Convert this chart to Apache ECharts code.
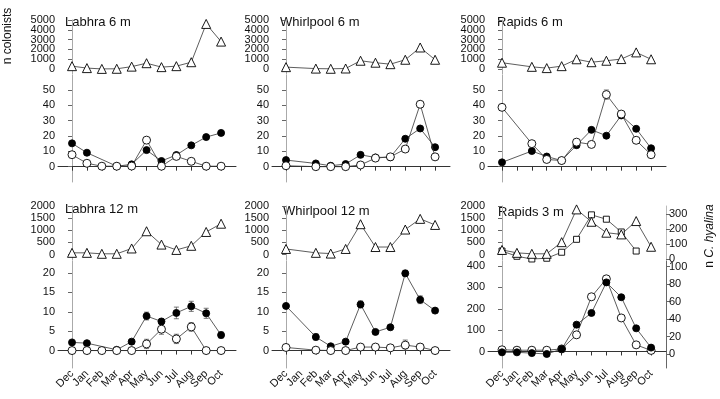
<!DOCTYPE html>
<html>
<head>
<meta charset="utf-8">
<script src="https://cdn.jsdelivr.net/npm/echarts@6/dist/echarts.min.js"></script>
<style>
  html, body { margin: 0; padding: 0; background: #fff; }
  #chart { width: 720px; height: 399px; }
</style>
</head>
<body>
<div id="chart"></div>
<script>
const months = ["Dec", "Jan", "Feb", "Mar", "Apr", "May", "Jun", "Jul", "Aug", "Sep", "Oct"];

// Labhra 6 m
const labhra6Tri = [300, 100, 20, 30, 250, 600, 200, 300, 700, 4600, 2800];
const labhra6Filled = [15.2, 9.1, null, 0.3, 1.5, 10.8, 3.7, 7.6, 13.9, 19.3, 22];
const labhra6Open = [7.8, 2.2, 0.3, 0.3, 0.4, 17.3, 0.3, 6.7, 3.5, 0.3, 0.3];
const labhra6OpenErr = [0, 0, 0, 0, 0, 1.5, 0, 0, 0, 0, 0];

// Whirlpool 6 m (no January sample)
const whirl6Tri = [200, null, 50, 30, 60, 850, 650, 500, 950, 2200, 950];
const whirl6Filled = [4.3, null, 2.1, 0.6, 1.7, 7.7, 6, 6.2, 18.2, 24.9, 12.7];
const whirl6Open = [0.6, null, 0, 0, 0, 1.1, 5.6, 6.4, 11.5, 40.7, 6.4];
const whirl6OpenErr = [0, null, 0, 0, 0, 0, 0, 0, 0, 1.5, 0];

// Rapids 6 m (no January sample)
const rapids6Tri = [650, null, 230, 100, 300, 1000, 700, 850, 1020, 1700, 1000];
const rapids6Filled = [2.8, null, 10.2, 6.6, 4, 14, 24, 20.2, 33.4, 24.7, 12];
const rapids6Open = [38.7, null, 15, 4.7, 4, 16, 14.5, 47, 34.3, 17.2, 7.8];
const rapids6OpenErr = [0, null, 0, 0, 0, 0, 0, 3, 1.5, 0, 0];

// Labhra 12 m
const labhra12Tri = [70, 70, 30, 30, 250, 960, 410, 190, 360, 930, 1270];
const labhra12Filled = [2.1, 1.9, null, 0.2, 2.3, 8.9, 7.5, 9.7, 11.4, 9.6, 4.0];
const labhra12FilledErr = [0.3, 0.2, null, 0.2, 0.4, 1.0, 0.7, 1.5, 1.3, 1.3, 0.8];
const labhra12Open = [0, 0, 0, 0, 0, 1.7, 5.5, 3.0, 6.1, 0, 0];
const labhra12OpenErr = [0, 0, 0, 0, 0, 1.2, 1.3, 1.2, 1.1, 0, 0];

// Whirlpool 12 m (no January sample)
const whirl12Tri = [230, null, 70, 40, 230, 1250, 310, 310, 1030, 1470, 1220];
const whirl12Filled = [11.5, null, 3.5, 1.1, 2.3, 11.9, 4.8, 6.0, 19.9, 13.1, 10.3];
const whirl12FilledErr = [0.3, null, 0.8, 0.3, 0.3, 0.9, 0.3, 0.3, 0.8, 1.0, 0.5];
const whirl12Open = [0.8, null, 0.1, 0, 0, 0.9, 0.9, 0.7, 1.4, 0.9, 0];
const whirl12OpenErr = [0.7, null, 0, 0, 0, 0.8, 0.6, 0.3, 1.3, 0.8, 0];

// Rapids 3 m: triangles + open circles on left axes, squares + filled circles on right (n C. hyalina)
const rapids3Tri = [190, 70, 30, 30, 510, 1860, 1350, 900, 830, 1380, 320];
const rapids3Sq = [55, 20, 2, 7, 47, 133, 296, 267, 182, 55, null];
const rapids3Open = [8, 6, 6, 6, 12, 78, 256, 340, 157, 31, 5];
const rapids3Filled = [1.9, 1.9, 1, 0, 5.7, 33.6, 47, 82, 65, 29.4, 7.3];

const FONT = "Liberation Sans, Arial, sans-serif";
const monthIdx = months.map((m, i) => i);
const colLeft = [58, 272, 488];

const grids = [], xAxes = [], yAxes = [], series = [], graphics = [];

// labels are split over two stacked axes (even / odd), otherwise ECharts drops the crowded ones
const evens = (arr) => arr.filter((v, i) => i % 2 === 0);
const odds = (arr) => arr.filter((v, i) => i % 2 === 1);

function xAxisDef(gi, show, labelValues, main) {
    return {
        gridIndex: gi,
        type: "value",
        position: "bottom",
        min: -0.94,
        max: 11,
        show: show,
        axisLine: { show: main, lineStyle: { color: "#333", width: 1 } },
        axisTick: { show: main, length: 4, customValues: monthIdx, lineStyle: { color: "#333" } },
        axisLabel: {
            show: labelValues.length > 0,
            customValues: labelValues,
            rotate: 45,
            margin: 4,
            fontSize: 11,
            color: "#111",
            fontFamily: FONT,
            formatter: (v) => months[v],
        },
        splitLine: { show: false },
    };
}

function addGrid(col, top, height, showX, showLabels) {
    const gi = grids.length;
    grids.push({ left: colLeft[col], top: top, width: 178, height: height });
    const xi = xAxes.length;
    xAxes.push(xAxisDef(gi, showX, showLabels ? evens(monthIdx) : [], true));
    if (showLabels) xAxes.push(xAxisDef(gi, true, odds(monthIdx), false));
    return { gi, xi };
}

function yAxisDef(gi, min, max, ticks, labelValues, position, lineColor, main) {
    return {
        gridIndex: gi,
        type: "value",
        min: min,
        max: max,
        position: position,
        axisLine: { show: main, lineStyle: { color: lineColor } },
        axisTick: { show: main, length: 4, customValues: ticks, lineStyle: { color: "#666" } },
        axisLabel: {
            customValues: labelValues,
            margin: 3,
            fontSize: 11,
            color: "#111",
            fontFamily: FONT,
            formatter: (v) => String(v),
        },
        splitLine: { show: false },
    };
}

function addY(g, min, max, ticks, position, lineColor) {
    const pos = position || "left";
    const col = lineColor || "#aaa";
    const yi = yAxes.length;
    yAxes.push(yAxisDef(g.gi, min, max, ticks, evens(ticks), pos, col, true));
    yAxes.push(yAxisDef(g.gi, min, max, ticks, odds(ticks), pos, col, false));
    return yi;
}

const STYLES = {
    tri: { symbol: "triangle", size: 9, fill: "#fff" },
    sq: { symbol: "rect", size: 6, fill: "#fff" },
    filled: { symbol: "circle", size: 7, fill: "#000" },
    open: { symbol: "circle", size: 8, fill: "#fff" },
};

function addLine(g, yi, values, kind, z) {
    const s = STYLES[kind];
    series.push({
        type: "line",
        xAxisIndex: g.xi,
        yAxisIndex: yi,
        data: values.map((v, i) => [i, v == null ? "-" : v]),
        connectNulls: true,
        symbol: s.symbol,
        symbolSize: s.size,
        showAllSymbol: true,
        itemStyle: { color: s.fill, borderColor: "#000", borderWidth: 0.9 },
        lineStyle: { color: "#333", width: 0.8 },
        z: z || 2,
        silent: true,
        animation: false,
    });
}

function addErr(g, yi, values, errs) {
    series.push({
        type: "custom",
        xAxisIndex: g.xi,
        yAxisIndex: yi,
        z: 1,
        silent: true,
        animation: false,
        data: values.map((v, i) => [i, v, errs[i]]).filter((d) => d[1] != null && d[2]),
        renderItem: (params, api) => {
            const x = api.value(0), v = api.value(1), e = api.value(2);
            const lo = api.coord([x, v - e]);
            const hi = api.coord([x, v + e]);
            const st = { stroke: "#555", lineWidth: 0.8 };
            return {
                type: "group",
                children: [
                    { type: "line", shape: { x1: lo[0], y1: lo[1], x2: hi[0], y2: hi[1] }, style: st },
                    { type: "line", shape: { x1: lo[0] - 2.5, y1: lo[1], x2: lo[0] + 2.5, y2: lo[1] }, style: st },
                    { type: "line", shape: { x1: hi[0] - 2.5, y1: hi[1], x2: hi[0] + 2.5, y2: hi[1] }, style: st },
                ],
            };
        },
    });
}

function addTitle(x, y, text) {
    graphics.push({
        type: "text",
        left: x,
        top: y - 8,
        style: { text: text, fontSize: 13, fill: "#111", fontFamily: FONT },
    });
}

// === TOP ROW (6 m) ===
const top6Ticks = [0, 1000, 2000, 3000, 4000, 5000];
const low6Ticks = [0, 10, 20, 30, 40, 50];

function topPanel(col, tri, filled, open, openErr) {
    const gu = addGrid(col, 20, 54, false, false);
    const yu = addY(gu, -500, 5000, top6Ticks);
    addLine(gu, yu, tri, "tri");
    const gl = addGrid(col, 75, 107, true, false);
    const yl = addY(gl, -10, 59.78, low6Ticks);
    if (openErr) addErr(gl, yl, open, openErr);
    addLine(gl, yl, filled, "filled", 2);
    addLine(gl, yl, open, "open", 3);
}

topPanel(0, labhra6Tri, labhra6Filled, labhra6Open, labhra6OpenErr);
topPanel(1, whirl6Tri, whirl6Filled, whirl6Open, whirl6OpenErr);
topPanel(2, rapids6Tri, rapids6Filled, rapids6Open, rapids6OpenErr);

// === BOTTOM ROW ===
const top12Ticks = [0, 500, 1000, 1500, 2000];
const low12Ticks = [0, 5, 10, 15, 20];

function bottomPanel(col, tri, filled, filledErr, open, openErr) {
    const gu = addGrid(col, 206, 54, false, false);
    const yu = addY(gu, -225, 2000, top12Ticks);
    addLine(gu, yu, tri, "tri");
    const gl = addGrid(col, 261, 107, true, true);
    const yl = addY(gl, -4.5, 23.09, low12Ticks);
    addErr(gl, yl, filled, filledErr);
    addErr(gl, yl, open, openErr);
    addLine(gl, yl, filled, "filled", 2);
    addLine(gl, yl, open, "open", 3);
}

bottomPanel(0, labhra12Tri, labhra12Filled, labhra12FilledErr, labhra12Open, labhra12OpenErr);
bottomPanel(1, whirl12Tri, whirl12Filled, whirl12FilledErr, whirl12Open, whirl12OpenErr);

// Rapids 3 m with a second (right) axis in both parts
{
    const gu = addGrid(2, 206, 54, false, false);
    const yu = addY(gu, -225, 2000, top12Ticks);
    const yur = addY(gu, -4.7, 355, [0, 100, 200, 300], "right", "#bbb");
    addLine(gu, yur, rapids3Sq, "sq");
    addLine(gu, yu, rapids3Tri, "tri");
    const gl = addGrid(2, 261, 107, true, true);
    const yl = addY(gl, -77.2, 423.4, [0, 100, 200, 300, 400]);
    const ylr = addY(gl, -16.04, 106.5, [0, 20, 40, 60, 80, 100], "right", "#666");
    addLine(gl, yl, rapids3Open, "open", 2);
    addLine(gl, ylr, rapids3Filled, "filled", 3);
}

addTitle(65, 24, "Labhra 6 m");
addTitle(280, 24, "Whirlpool 6 m");
addTitle(497, 24, "Rapids 6 m");
addTitle(65, 211, "Labhra 12 m");
addTitle(283, 213, "Whirlpool 12 m");
addTitle(498, 214, "Rapids 3 m");

graphics.push({
    type: "text",
    x: 8,
    y: 36,
    rotation: Math.PI / 2,
    style: { text: "n colonists", fontSize: 12, fill: "#111", fontFamily: FONT, align: "center", verticalAlign: "middle" },
});
graphics.push({
    type: "text",
    x: 710,
    y: 236,
    rotation: Math.PI / 2,
    style: {
        text: "{a|n }{b|C. hyalina}",
        align: "center",
        verticalAlign: "middle",
        rich: {
            a: { fontSize: 12, fill: "#111", fontFamily: FONT },
            b: { fontSize: 12, fill: "#111", fontFamily: FONT, fontStyle: "italic" },
        },
    },
});

const chart = echarts.init(document.getElementById("chart"), null, { renderer: "canvas" });
chart.setOption({
    animation: false,
    backgroundColor: "#fff",
    grid: grids,
    xAxis: xAxes,
    yAxis: yAxes,
    series: series,
    graphic: graphics,
});
</script>
</body>
</html>
